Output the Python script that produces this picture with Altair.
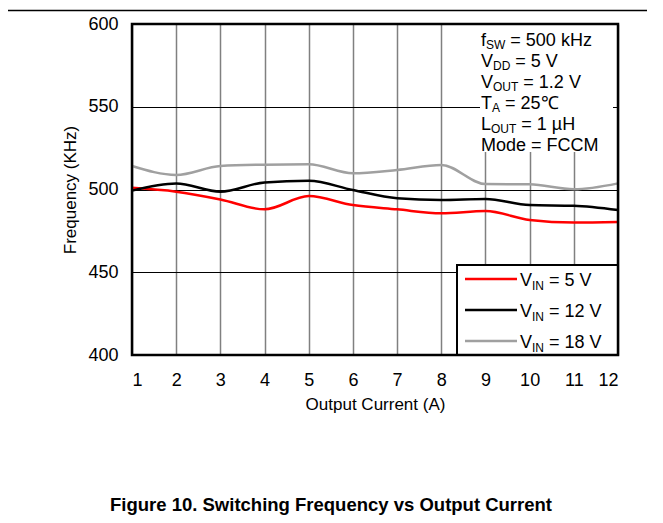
import altair as alt
import pandas as pd

# ---- data ----
current = [1, 2, 3, 4, 5, 6, 7, 8, 9, 10, 11, 12]
vin5 = [501.0, 498.7, 494.0, 488.0, 496.0, 490.6, 488.0, 485.6, 487.0, 481.6, 480.0, 480.4]
vin12 = [499.3, 503.7, 498.7, 504.3, 505.3, 499.7, 494.7, 493.7, 494.3, 490.6, 490.2, 487.6]
vin18 = [514.2, 508.8, 514.2, 515.0, 515.2, 509.8, 511.8, 514.8, 503.3, 503.1, 500.1, 503.7]
series_names = ["VIN = 5 V", "VIN = 12 V", "VIN = 18 V"]
series_colors = ["#ff0000", "#000000", "#a0a0a0"]
x_ticks = [1, 2, 3, 4, 5, 6, 7, 8, 9, 10, 11, 12]
y_ticks = [400, 450, 500, 550, 600]

legend_main = ["V", "V", "V"]
legend_sub = ["IN", "IN", "IN"]
legend_rest = ["= 5 V", "= 12 V", "= 18 V"]

cond_main = ["f", "V", "V", "T", "L", "Mode = FCCM"]
cond_sub = ["SW", "DD", "OUT", "A", "OUT", ""]
cond_rest = ["= 500 kHz", "= 5 V", "= 1.2 V", "= 25\u2103", "= 1 \u00b5H", ""]

caption = "Figure 10. Switching Frequency vs Output Current"

FONT = "Liberation Sans"
W, H = 486, 331
MAIN = 18
SUB = 12
TICK = 18
TITLE = 17
GAP = 0.278 * MAIN  # width of one space

# Arial-like advance widths (per 1000 em)
AW = {"f": 278, "V": 667, "T": 611, "L": 556, "S": 667, "W": 944, "D": 722,
      "O": 778, "U": 722, "A": 667, "I": 278, "N": 722}


def tw(s, size):
    return sum(AW.get(c, 556) for c in s) * size / 1000.0


rows = []
for n, v in zip(series_names, [vin5, vin12, vin18]):
    for c, f in zip(current, v):
        rows.append({"current": c, "freq": f, "series": n})
df = pd.DataFrame(rows)

base = alt.Chart(df)

lines = base.mark_line(interpolate="monotone", strokeWidth=2.5).encode(
    x=alt.X("current:Q", scale=alt.Scale(domain=[1, 12], nice=False),
            axis=alt.Axis(values=x_ticks, title="Output Current (A)", grid=True,
                          gridColor="#808080", gridWidth=1.5, ticks=False, tickSize=0,
                          domain=False, labelPadding=16, titlePadding=7,
                          labelFontSize=TICK, titleFontSize=TITLE, labelAngle=0)),
    y=alt.Y("freq:Q", scale=alt.Scale(domain=[400, 600], nice=False, zero=False),
            axis=alt.Axis(values=y_ticks, title="Frequency (KHz)", grid=True,
                          gridColor="#000000", gridWidth=1, ticks=False, tickSize=0,
                          domain=False, labelPadding=14, titlePadding=8,
                          labelFontSize=TICK, titleFontSize=TITLE)),
    color=alt.Color("series:N", scale=alt.Scale(domain=series_names, range=series_colors),
                    legend=None),
    detail="series:N",
)

one = pd.DataFrame({"d": [0]})


def box(x1, y1, x2, y2, fill="white", stroke=None, sw=0):
    kw = dict(fill=fill)
    if stroke:
        kw.update(stroke=stroke, strokeWidth=sw)
    else:
        kw.update(strokeWidth=0)
    return alt.Chart(one).mark_rect(**kw).encode(
        x=alt.value(x1), x2=alt.value(x2), y=alt.value(y1), y2=alt.value(y2))


def txt(s, x, y, size, weight="normal", align="left"):
    return alt.Chart(one).mark_text(text=s, font=FONT, fontSize=size, align=align,
                                    baseline="alphabetic", fontWeight=weight,
                                    color="black").encode(
        x=alt.value(x), y=alt.value(y))


layers = [box(348, 0, 481, 128), lines]

# condition annotations
x0 = 349
for i, (m, s, r) in enumerate(zip(cond_main, cond_sub, cond_rest)):
    yb = 21.5 + 21 * i
    layers.append(txt(m, x0, yb, MAIN))
    if s:
        xs = x0 + tw(m, MAIN)
        layers.append(txt(s, xs, yb + 3.5, SUB))
        layers.append(txt(r, xs + tw(s, SUB) + GAP, yb, MAIN))

# legend
layers.append(box(325, 241, W, H, fill="white", stroke="black", sw=2))
for i in range(3):
    ry = 255 + 31 * i
    layers.append(alt.Chart(one).mark_rule(color=series_colors[i], strokeWidth=2.5).encode(
        x=alt.value(333), x2=alt.value(385), y=alt.value(ry)))
    layers.append(txt(legend_main[i], 388, ry + 6.5, MAIN))
    xs = 388 + tw(legend_main[i], MAIN)
    layers.append(txt(legend_sub[i], xs, ry + 10.5, SUB))
    layers.append(txt(legend_rest[i], xs + tw(legend_sub[i], SUB) + GAP, ry + 6.5, MAIN))

# plot border
layers.append(alt.Chart(one).mark_rect(fillOpacity=0, stroke="black", strokeWidth=2.5).encode(
    x=alt.value(0), x2=alt.value(W), y=alt.value(0), y2=alt.value(H)))

# top page rule and caption
layers.append(alt.Chart(one).mark_rule(color="black", strokeWidth=1.5).encode(
    x=alt.value(-124), x2=alt.value(W + 29), y=alt.value(-13.5)))
layers.append(txt(caption, 199, 487, 18.5, weight="bold", align="center"))

chart = alt.layer(*layers).properties(
    width=W, height=H,
    autosize=alt.AutoSizeParams(type="none"),
    padding={"left": 124, "top": 16, "right": 29, "bottom": 160},
).configure_view(stroke=None).configure_axis(
    labelFont=FONT, titleFont=FONT, labelColor="black", titleColor="black",
    titleFontWeight="normal"
)

chart.save("out.html", embed_options={"renderer": "svg", "actions": False})
